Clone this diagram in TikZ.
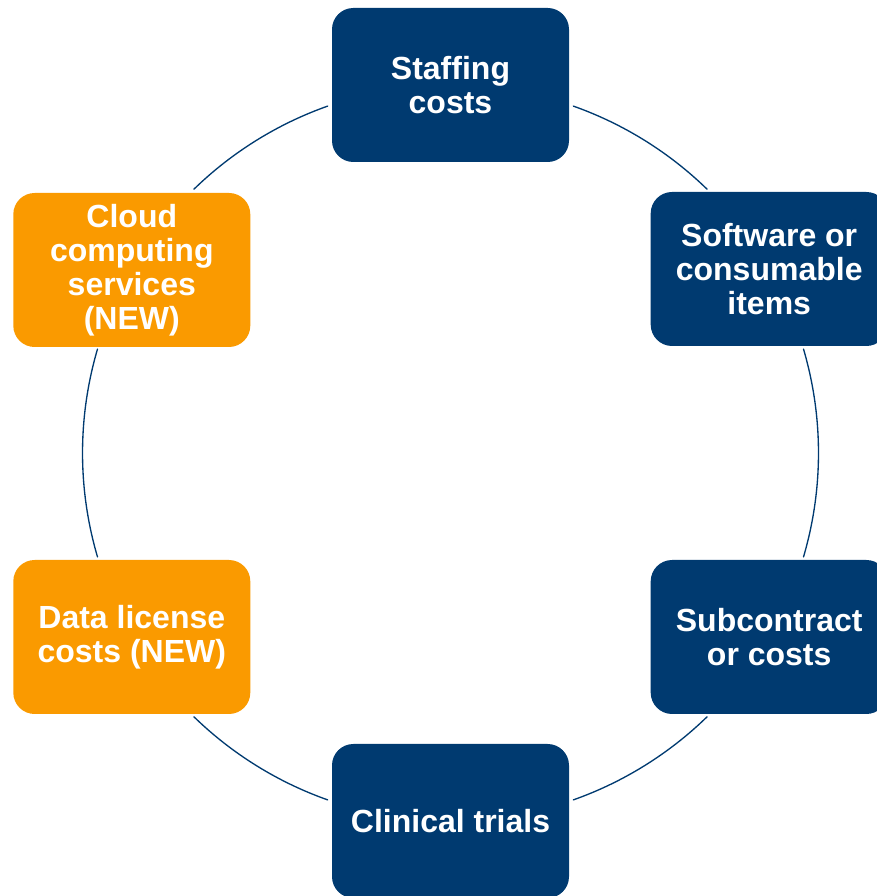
\documentclass[tikz,border=0pt]{standalone}
\usepackage{fontspec}
\setmainfont{Liberation Sans}
\definecolor{navy}{HTML}{003A70}
\definecolor{amber}{HTML}{FA9A00}

\begin{document}
\begin{tikzpicture}[
  x=0.75pt,y=0.75pt,
  line cap=round,
  line join=round,
  box/.style={rounded corners=16pt,minimum width=177.75pt,minimum height=115.5pt,
    inner sep=0pt,align=center,text=white,
    font=\fontsize{24}{25.5}\selectfont\bfseries},
  core/.style={box,fill=navy},
  extra/.style={box,fill=amber},
  ring/.style={draw=navy,line width=1pt}
]
  \useasboundingbox (0,0) rectangle (876,896);
  \coordinate (hub) at (450.5,443);

  % Cost boxes round the ring
  \node[core]  (staff)  at (450.5,811) {Staffing\\costs};
  \node[core]  (soft)   at (769.2,627) {Software or\\consumable\\items};
  \node[core]  (sub)    at (769.2,259) {Subcontract\\or costs};
  \node[core]  (trials) at (450.5, 75) {Clinical trials};
  \node[extra] (data)   at (131.8,259) {Data license\\costs (NEW)};
  \node[extra] (cloud)  at (131.8,626) {Cloud\\computing\\services\\(NEW)};

  % Ring pieces between the boxes
  \draw[ring] ([shift={(109.5:368)}]hub) arc[start angle=109.5,end angle=134.2,radius=368];
  \draw[ring] ([shift={(163.6:368)}]hub) arc[start angle=163.6,end angle=196.4,radius=368];
  \draw[ring] ([shift={(225.8:368)}]hub) arc[start angle=225.8,end angle=250.5,radius=368];
  \draw[ring] ([shift={(289.5:368)}]hub) arc[start angle=289.5,end angle=314.2,radius=368];
  \draw[ring] ([shift={(-16.4:368)}]hub) arc[start angle=-16.4,end angle=16.4,radius=368];
  \draw[ring] ([shift={(45.8:368)}]hub)  arc[start angle=45.8,end angle=70.5,radius=368];
\end{tikzpicture}
\end{document}
